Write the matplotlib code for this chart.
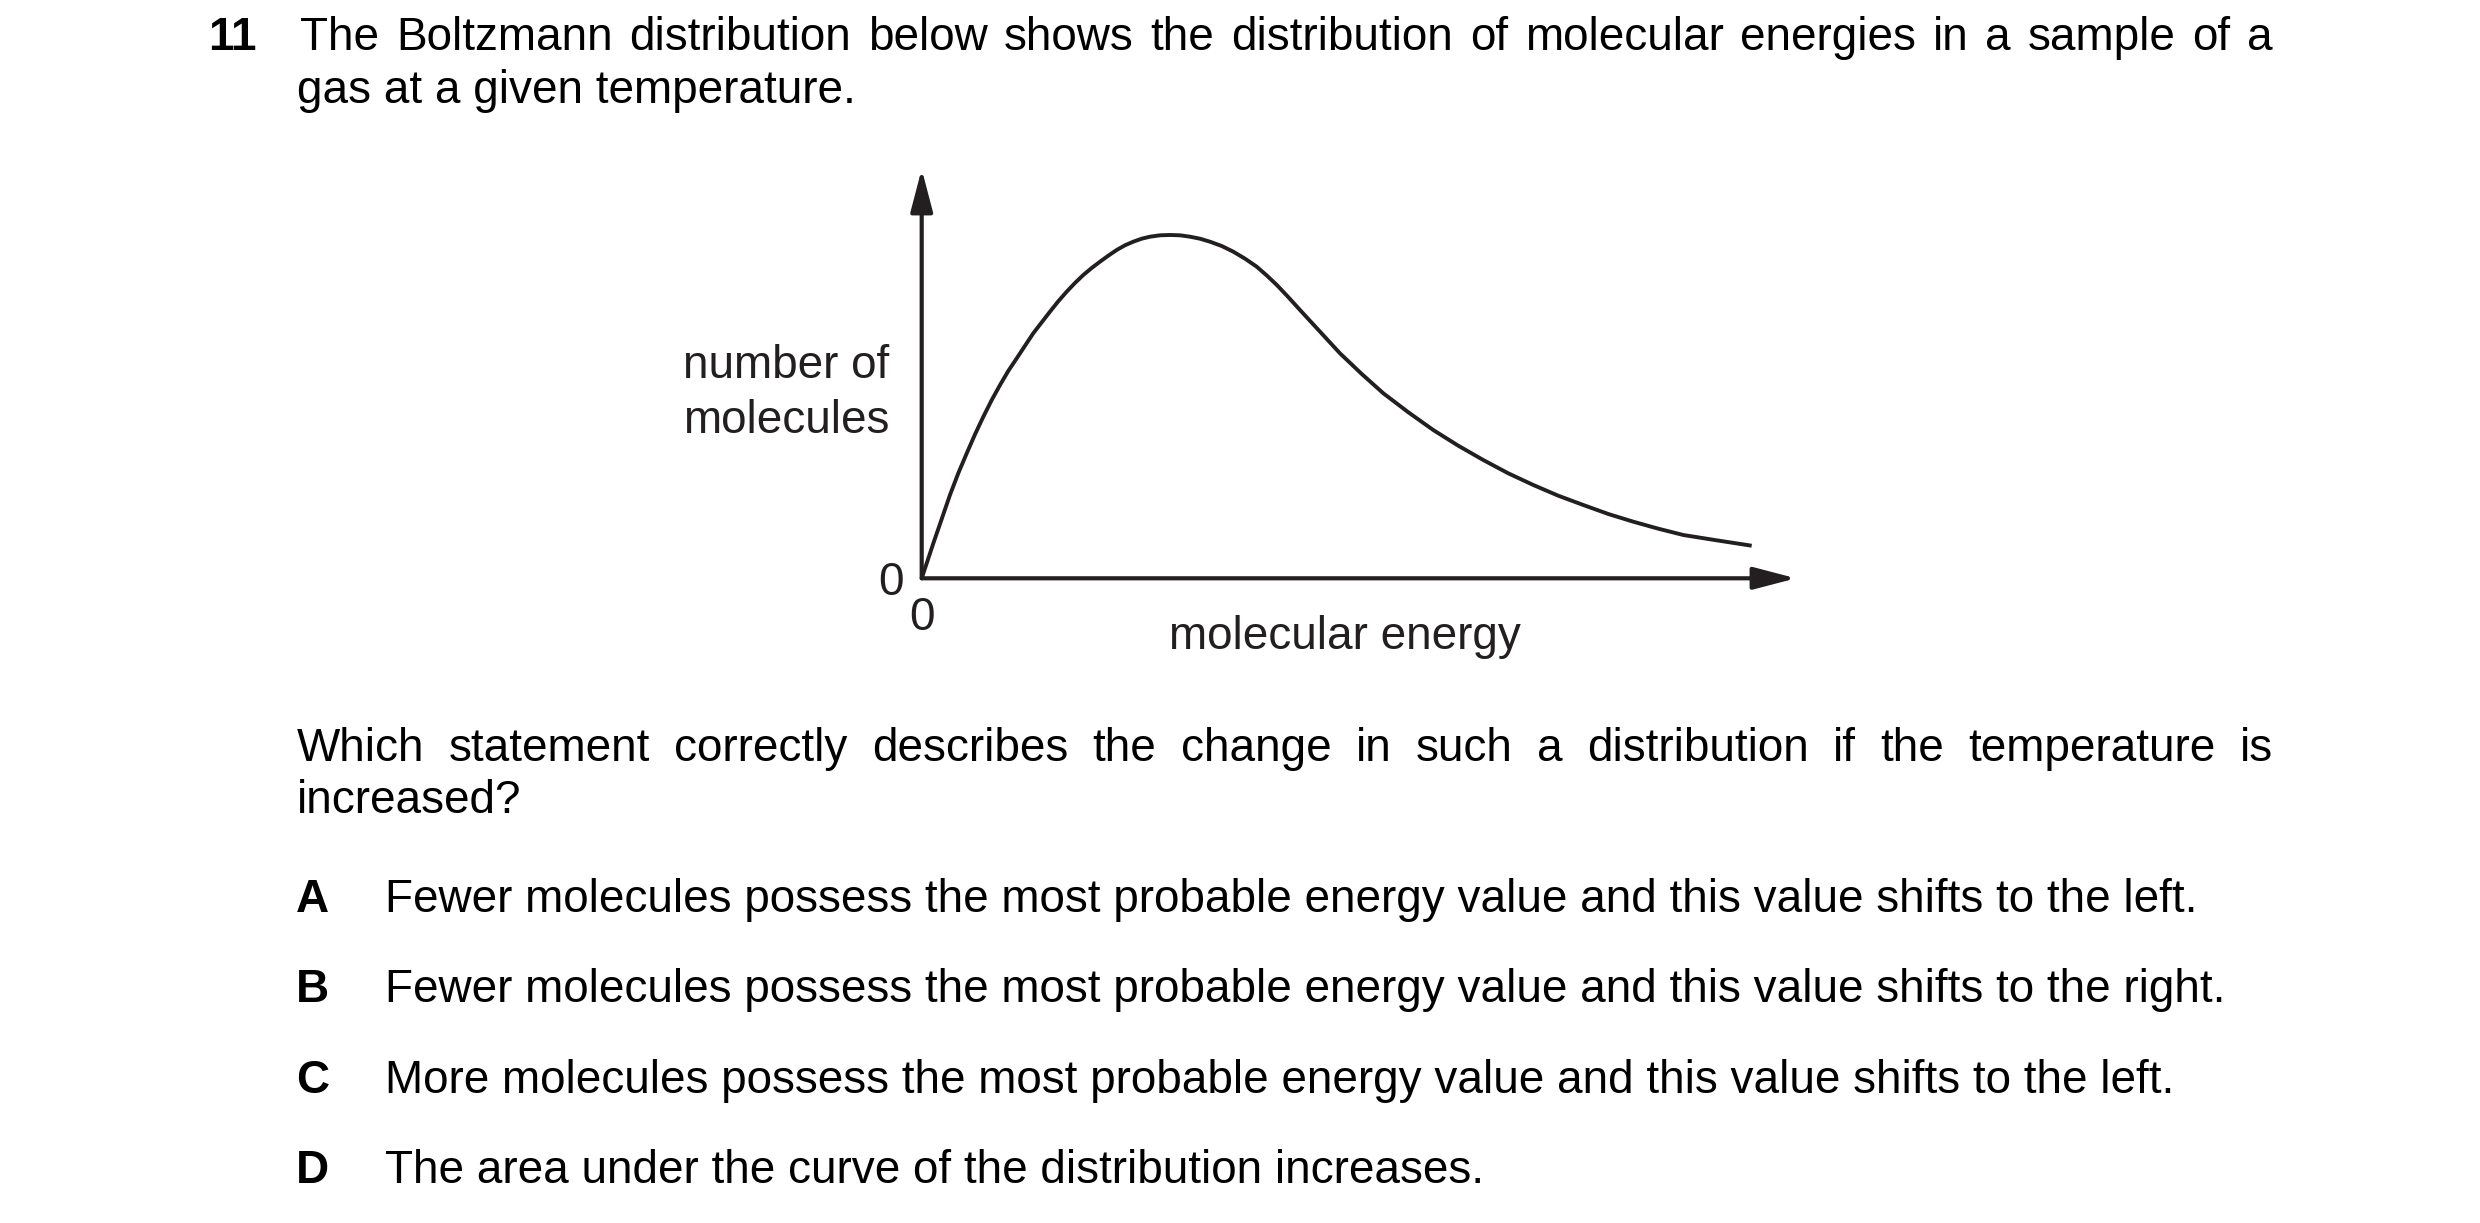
import numpy as np
import matplotlib
matplotlib.use("Agg")
import matplotlib.pyplot as plt

plt.rcParams['font.family'] = ['Liberation Sans', 'DejaVu Sans']

# curve (arbitrary units, axes run 0..10)
energy = [0.0, 0.057, 0.133, 0.229, 0.324, 0.419, 0.515, 0.610, 0.705, 0.801,
          0.896, 0.990, 1.087, 1.182, 1.276, 1.373, 1.467, 1.562, 1.658, 1.753,
          1.848, 1.944, 2.039, 2.134, 2.230, 2.325, 2.420, 2.516, 2.611, 2.726,
          2.840, 2.955, 3.069, 3.183, 3.297, 3.431, 3.564, 3.698, 3.832, 3.946,
          4.060, 4.193, 4.327, 4.556, 4.784, 5.033, 5.280, 5.566, 5.851, 6.137,
          6.423, 6.709, 6.995, 7.281, 7.567, 7.853, 8.139, 8.425, 8.711, 9.093, 9.493]
molecules = [0.0, 0.366, 0.855, 1.450, 2.040, 2.570, 3.054, 3.518, 3.948, 4.356,
             4.723, 5.065, 5.375, 5.683, 5.986, 6.255, 6.514, 6.768, 7.002, 7.215,
             7.410, 7.581, 7.735, 7.882, 8.021, 8.136, 8.224, 8.297, 8.346, 8.380,
             8.388, 8.380, 8.346, 8.297, 8.224, 8.119, 7.980, 7.809, 7.613, 7.400,
             7.170, 6.870, 6.555, 6.025, 5.497, 4.992, 4.520, 4.056, 3.623, 3.240,
             2.890, 2.565, 2.280, 2.018, 1.791, 1.571, 1.383, 1.212, 1.058, 0.928, 0.796]
x_max = 10
y_max = 10

question_no = "11"
intro_line1 = "The Boltzmann distribution below shows the distribution of molecular energies in a sample of a"
intro_line2 = "gas at a given temperature."
ask_line1 = "Which statement correctly describes the change in such a distribution if the temperature is"
ask_line2 = "increased?"
option_keys = ["A", "B", "C", "D"]
option_texts = [
    "Fewer molecules possess the most probable energy value and this value shifts to the left.",
    "Fewer molecules possess the most probable energy value and this value shifts to the right.",
    "More molecules possess the most probable energy value and this value shifts to the left.",
    "The area under the curve of the distribution increases.",
]
ylabel_lines = ["number of", "molecules"]
xlabel = "molecular energy"

W, H = 2480, 1223
FS = 33
INK = "#231f20"

fig = plt.figure(figsize=(W / 100, H / 100), dpi=100)
fig.patch.set_facecolor("white")


def fx(px):
    return px / W


def fy(py):
    return 1 - py / H


def justify(words, x0, x1, y, **kw):
    r = fig.canvas.get_renderer()
    items = [fig.text(0, fy(y), w, fontsize=FS, va="baseline", ha="left", **kw) for w in words]
    widths = [t.get_window_extent(r).width for t in items]
    gap = (x1 - x0 - sum(widths)) / (len(words) - 1)
    x = x0
    for t, w in zip(items, widths):
        t.set_x(fx(x))
        x += w + gap


# chart area
ox, oy = 921.7, 578.3
tipx, tipy = 1796, 169
ax = fig.add_axes([fx(ox), fy(oy), (tipx - ox) / W, (oy - tipy) / H])
ax.set_xlim(0, x_max)
ax.set_ylim(0, y_max)
for s in ax.spines.values():
    s.set_visible(False)
ax.set_facecolor("none")

ax.plot(energy, molecules, color=INK, lw=2.8, solid_joinstyle="round",
        solid_capstyle="butt", clip_on=False)

arrow = dict(arrowstyle="-|>,head_length=26,head_width=6.8", mutation_scale=1,
             lw=3.0, color=INK, shrinkA=0, shrinkB=0)
ax.annotate("", xy=(x_max, 0), xytext=(0, 0), arrowprops=arrow, annotation_clip=False)
ax.annotate("", xy=(0, y_max), xytext=(0, 0), arrowprops=arrow, annotation_clip=False)

ax.set_xticks([0])
ax.set_xticklabels(["0"])
ax.set_yticks([0])
ax.set_yticklabels(["0"])
ax.tick_params(length=0, labelsize=FS, colors=INK, pad=13)

fig.text(fx(683), fy(378), ylabel_lines[0], fontsize=FS, color=INK, va="baseline", ha="left")
fig.text(fx(683), fy(433), ylabel_lines[1], fontsize=FS, color=INK, va="baseline", ha="left")
fig.text(fx(1344.5), fy(649), xlabel, fontsize=FS, color=INK, va="baseline", ha="center")

# question text
fig.text(fx(208), fy(50), question_no, fontsize=FS, fontweight="bold", va="baseline", ha="left")
justify(intro_line1.split(), 300, 2273, 50)
fig.text(fx(297), fy(103), intro_line2, fontsize=FS, va="baseline", ha="left")
justify(ask_line1.split(), 297, 2273, 761)
fig.text(fx(297), fy(813), ask_line2, fontsize=FS, va="baseline", ha="left")

option_y = [912, 1002, 1093, 1183]
for key, txt, y in zip(option_keys, option_texts, option_y):
    fig.text(fx(296), fy(y), key, fontsize=FS, fontweight="bold", va="baseline", ha="left")
    fig.text(fx(385), fy(y), txt, fontsize=FS, va="baseline", ha="left")

fig.savefig("out.png", dpi=100, facecolor="white")
